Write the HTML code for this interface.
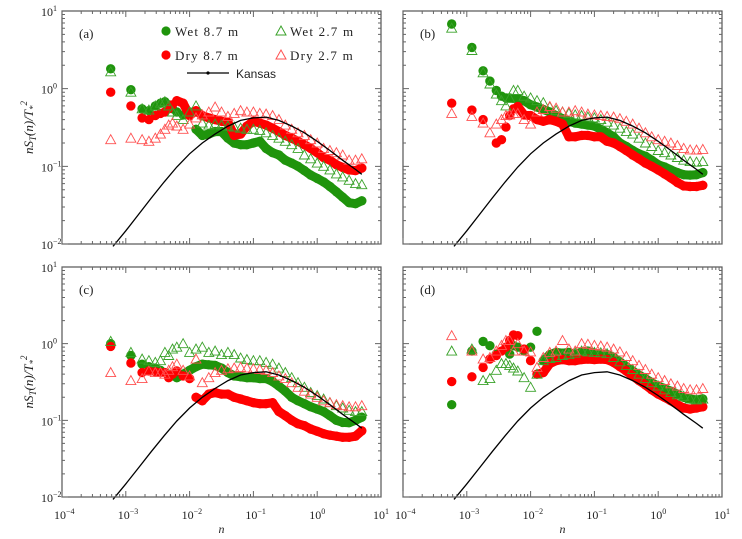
<!DOCTYPE html>
<html><head><meta charset="utf-8"><style>
body{margin:0;background:#fff;}
svg{display:block;font-family:"Liberation Serif",serif;}
</style></head><body>
<svg id="chart" width="742" height="539" viewBox="0 0 742 539"></svg>
<script>
// ---- data ----
const freqs=[0.00058,0.0012,0.0018,0.0023,0.0029,0.0035,0.0041,0.0047,0.0054,0.0063,0.0079,0.01,0.0126,0.0158,0.02,0.0251,0.0316,0.0398,0.05,0.063,0.079,0.1,0.126,0.158,0.2,0.251,0.316,0.398,0.5,0.63,0.79,1,1.26,1.58,2,2.51,3.16,3.98,5.0];
const kansasN=[0.00063,0.001,0.00158,0.0025,0.004,0.0063,0.01,0.0158,0.025,0.04,0.063,0.1,0.158,0.25,0.4,0.63,1,1.58,2.5,4,5];
const kansasV=[0.0093,0.0148,0.024,0.039,0.063,0.098,0.145,0.2,0.26,0.33,0.39,0.42,0.43,0.39,0.33,0.27,0.21,0.16,0.12,0.091,0.079];
const seriesNames=["Wet 8.7 m","Dry 8.7 m","Wet 2.7 m","Dry 2.7 m"];
const aWet87=[1.8,0.97,0.55,0.52,0.6,0.65,0.68,0.62,0.55,0.5,0.46,0.5,0.3,0.25,0.26,0.28,0.28,0.23,0.2,0.19,0.19,0.2,0.21,0.17,0.15,0.14,0.12,0.11,0.1,0.088,0.077,0.07,0.063,0.055,0.047,0.04,0.034,0.033,0.036];
const aDry87=[0.9,0.6,0.42,0.4,0.45,0.48,0.5,0.55,0.62,0.7,0.65,0.45,0.52,0.45,0.42,0.4,0.38,0.37,0.25,0.26,0.33,0.38,0.36,0.34,0.31,0.28,0.25,0.23,0.21,0.19,0.17,0.15,0.13,0.12,0.105,0.097,0.09,0.088,0.095];
const aWet27=[1.65,0.9,0.55,0.53,0.6,0.65,0.68,0.6,0.5,0.45,0.4,0.5,0.6,0.36,0.34,0.35,0.34,0.33,0.32,0.31,0.3,0.3,0.29,0.27,0.25,0.23,0.21,0.19,0.17,0.14,0.125,0.11,0.1,0.09,0.08,0.073,0.066,0.06,0.058];
const aDry27=[0.22,0.23,0.22,0.21,0.23,0.26,0.3,0.34,0.36,0.33,0.3,0.35,0.42,0.46,0.5,0.58,0.5,0.44,0.48,0.52,0.5,0.5,0.48,0.47,0.45,0.4,0.34,0.3,0.27,0.25,0.22,0.2,0.17,0.16,0.15,0.14,0.12,0.12,0.125];
const bWet87=[6.8,3.4,1.7,1.25,0.95,0.8,0.76,0.76,0.75,0.74,0.7,0.62,0.58,0.54,0.5,0.45,0.41,0.38,0.36,0.35,0.34,0.33,0.3,0.27,0.24,0.2,0.18,0.16,0.145,0.135,0.12,0.105,0.098,0.09,0.083,0.078,0.077,0.078,0.083];
const bDry87=[0.65,0.53,0.4,null,0.2,0.22,0.32,0.45,0.55,0.59,0.46,0.45,0.4,0.38,0.4,0.38,0.35,0.24,0.24,0.25,0.25,0.24,0.24,0.21,0.2,0.18,0.16,0.14,0.125,0.11,0.1,0.09,0.08,0.071,0.062,0.056,0.055,0.055,0.057];
const bWet27=[6.0,3.1,1.6,1.15,0.85,0.7,0.6,0.75,0.95,0.95,0.8,0.76,0.7,0.66,0.58,0.52,0.5,0.48,0.46,0.45,0.43,0.42,0.4,0.37,0.34,0.31,0.28,0.26,0.23,0.2,0.18,0.16,0.15,0.14,0.13,0.12,0.115,0.113,0.115];
const bDry27=[0.48,0.44,0.36,0.27,0.35,0.4,0.45,0.46,0.48,0.48,0.4,0.35,0.5,0.54,0.59,0.56,0.5,0.5,0.52,0.5,0.47,0.46,0.45,0.44,0.43,0.41,0.38,0.35,0.31,0.27,0.24,0.22,0.21,0.2,0.185,0.17,0.163,0.162,0.165];
const cWet87=[1.0,0.7,0.54,0.5,0.48,0.45,0.42,0.4,0.38,0.36,0.4,0.45,0.5,0.54,0.53,0.52,0.48,0.42,0.38,0.37,0.36,0.36,0.35,0.35,0.32,0.28,0.24,0.2,0.18,0.165,0.15,0.14,0.13,0.115,0.1,0.094,0.093,0.1,0.11];
const cDry87=[0.92,0.56,0.42,0.44,0.43,0.42,0.42,0.36,0.4,0.44,0.38,0.35,0.2,0.18,0.22,0.23,0.22,0.22,0.2,0.19,0.18,0.17,0.165,0.165,0.17,0.13,0.115,0.1,0.09,0.085,0.077,0.072,0.067,0.064,0.062,0.06,0.06,0.062,0.073];
const cWet27=[1.07,0.77,0.63,0.6,0.57,0.6,0.77,0.7,0.85,0.9,1.0,0.77,0.85,0.9,0.77,0.8,0.72,0.77,0.72,0.65,0.62,0.6,0.6,0.57,0.54,0.48,0.42,0.36,0.31,0.27,0.23,0.21,0.19,0.17,0.155,0.145,0.135,0.13,0.13];
const cDry27=[0.42,0.33,0.35,0.44,0.42,0.42,0.4,0.45,0.5,0.54,0.45,0.38,0.63,0.31,0.36,0.42,0.45,0.47,0.48,0.49,0.48,0.47,0.46,0.45,0.42,0.38,0.35,0.31,0.27,0.24,0.22,0.2,0.18,0.17,0.16,0.155,0.15,0.15,0.155];
const dWet87=[0.16,0.8,1.07,0.94,0.73,null,null,0.73,0.94,0.9,0.8,0.9,1.45,0.6,0.72,0.77,0.75,0.77,0.72,0.78,0.8,0.75,0.73,0.72,0.66,0.58,0.5,0.44,0.39,0.35,0.31,0.28,0.26,0.24,0.22,0.2,0.19,0.185,0.19];
const dDry87=[0.32,0.37,0.49,0.63,0.7,0.8,0.9,1.1,1.3,1.27,0.85,0.6,0.4,0.42,0.55,0.6,0.62,0.6,0.6,0.62,0.63,0.62,0.63,0.62,0.57,0.5,0.44,0.38,0.33,0.29,0.25,0.22,0.2,0.18,0.16,0.145,0.14,0.145,0.15];
const dWet27=[0.8,0.85,0.33,0.35,0.45,0.55,0.55,0.52,0.48,0.44,0.36,0.27,0.4,0.6,0.64,0.66,0.7,0.72,0.75,0.8,0.78,0.77,0.76,0.74,0.66,0.58,0.52,0.46,0.4,0.35,0.31,0.28,0.25,0.23,0.215,0.205,0.19,0.185,0.19];
const dDry27=[1.27,0.8,0.63,0.66,0.8,0.95,1.1,1.1,0.8,1.0,0.8,0.78,0.49,0.66,0.77,0.8,1.1,0.85,0.8,1.0,0.98,0.95,0.93,0.9,0.85,0.78,0.68,0.6,0.52,0.46,0.4,0.36,0.33,0.3,0.28,0.26,0.25,0.25,0.26];
const xTickExps=[-4,-3,-2,-1,0,1];
const yTickExps=[-2,-1,0,1];

const NS="http://www.w3.org/2000/svg";
const svg=document.getElementById('chart');
function mk(tag,attrs,parent){const e=document.createElementNS(NS,tag);for(const k in attrs)e.setAttribute(k,attrs[k]);(parent||svg).appendChild(e);return e;}

const panels=[
 {id:'a',x0:62,x1:381,y0:11,y1:244,data:[aWet87,aDry87,aWet27,aDry27],band:[12,9],xl:false,yl:true},
 {id:'b',x0:403,x1:722,y0:11,y1:244,data:[bWet87,bDry87,bWet27,bDry27],band:[9,9],xl:false,yl:false},
 {id:'c',x0:62,x1:381,y0:267,y1:497,data:[cWet87,cDry87,cWet27,cDry27],band:[9,12],xl:true,yl:true},
 {id:'d',x0:403,x1:722,y0:267,y1:497,data:[dWet87,dDry87,dWet27,dDry27],band:[13,12],xl:true,yl:false}
];

panels.forEach(p=>{
  const g=mk('g',{});
  
  
  const sx=v=>p.x0+(Math.log10(v)+4)/5*(p.x1-p.x0);
  const sy=v=>p.y1-(Math.log10(v)+2)/3*(p.y1-p.y0);
  [0,1,2,3].forEach(si=>{
    const sg=mk('g',{},g);
    
    
    const col=si==0?'#1f940c':'#ff0000';
    if(si<2){
      let d='',prev=false;
      p.data[si].forEach((v,i)=>{
        if(i<p.band[si]||v==null){prev=false;return;}
        d+=(prev?'L':'M')+sx(freqs[i]).toFixed(1)+' '+sy(v).toFixed(1);prev=true;
      });
      const band=mk('path',{d:d,fill:'none',stroke:col,'stroke-width':9,'stroke-linecap':'round','stroke-linejoin':'round'},sg);
      
      
    }
    p.data[si].forEach((v,i)=>{
      if(v==null)return;
      const x=sx(freqs[i]),y=sy(v);
      if(si<2){
        const c=mk('circle',{cx:x.toFixed(1),cy:y.toFixed(1),r:4.7,fill:col},sg);
        
        
      }else{
        const t=mk('path',{d:`M${(x-5).toFixed(1)} ${(y+4).toFixed(1)}L${(x+5).toFixed(1)} ${(y+4).toFixed(1)}L${x.toFixed(1)} ${(y-5).toFixed(1)}Z`,fill:'none',stroke:si==2?'#3aa22a':'#ff5050','stroke-width':0.9},sg);
        
        
      }
    });
  });
  const kp=kansasN.map((n,i)=>`${i?'L':'M'}${sx(n).toFixed(1)} ${sy(kansasV[i]).toFixed(1)}`).join('');
  const kl=mk('path',{d:kp,fill:'none',stroke:'#000','stroke-width':1.3},g);
  
  
  const fr=mk('rect',{x:p.x0,y:p.y0,width:p.x1-p.x0,height:p.y1-p.y0,fill:'none',stroke:'#555','stroke-width':1.2},g);
  
  
  let td='';
  for(let e=-4;e<1;e++)for(let m=1;m<10;m++){
    const x=sx(m*Math.pow(10,e));const L=m==1?6:3;
    td+=`M${x} ${p.y1}v${-L}M${x} ${p.y0}v${L}`;
  }
  for(let e=-2;e<1;e++)for(let m=1;m<10;m++){
    const y=sy(m*Math.pow(10,e));const L=m==1?6:3;
    td+=`M${p.x0} ${y}h${L}M${p.x1} ${y}h${-L}`;
  }
  const tk=mk('path',{d:td,stroke:'#666','stroke-width':1,fill:'none'},g);
  
  
  const pl=mk('text',{x:p.x0+17,y:p.y0+27,'font-size':13,fill:'#222'},g);
  pl.textContent='('+p.id+')';
  
  
  if(p.xl){
    xTickExps.forEach(e=>{
      const t=mk('text',{x:sx(Math.pow(10,e))-8,y:p.y1+22,'font-size':12,fill:'#222'},g);
      t.innerHTML='10<tspan dy="-5" font-size="8">'+(e<0?'\u2212'+(-e):e)+'</tspan>';
      
      
    });
    const xt=mk('text',{x:(p.x0+p.x1)/2-3,y:p.y1+36,'font-size':12,'font-style':'italic',fill:'#222'},g);
    xt.textContent='n';
    
    
  }
  if(p.yl){
    yTickExps.forEach(e=>{
      const t=mk('text',{x:p.x0-21,y:sy(Math.pow(10,e))+5,'font-size':12,fill:'#222'},g);
      t.innerHTML='10<tspan dy="-5" font-size="8">'+(e<0?'\u2212'+(-e):e)+'</tspan>';
      
      
    });
    const cy=(p.y0+p.y1)/2;
    const yt=mk('text',{x:0,y:0,'font-size':13,'font-style':'italic',fill:'#222','text-anchor':'middle',transform:`translate(33 ${cy}) rotate(-90)`},g);
    yt.innerHTML='nS<tspan dy="3" font-size="9">T</tspan><tspan dy="-3">(n)/T</tspan><tspan dy="3" font-size="9">*</tspan><tspan dy="-9" font-size="9">2</tspan>';
    
    
  }
});

const lg=mk('g',{});


const legItems=[
 {t:'Wet 8.7 m',x:166,y:31,k:'c',col:'#1f940c'},
 {t:'Wet 2.7 m',x:281,y:31,k:'t',col:'#3aa22a'},
 {t:'Dry 8.7 m',x:166,y:55,k:'c',col:'#ff0000'},
 {t:'Dry 2.7 m',x:281,y:55,k:'t',col:'#ff5050'}
];
legItems.forEach(it=>{
  const eg=mk('g',{},lg);
  
  
  if(it.k=='c')mk('circle',{cx:it.x,cy:it.y,r:4.6,fill:it.col},eg);
  else mk('path',{d:`M${it.x-5} ${it.y+4}L${it.x+5} ${it.y+4}L${it.x} ${it.y-5}Z`,fill:'none',stroke:it.col,'stroke-width':1},eg);
  const t=mk('text',{x:it.x+9,y:it.y+5,'font-size':13,'letter-spacing':'1.2',fill:'#222'},eg);
  t.textContent=it.t;
});
const ke=mk('g',{},lg);


mk('line',{x1:187,y1:73,x2:229,y2:73,stroke:'#000','stroke-width':1.3},ke);
mk('circle',{cx:208,cy:73,r:1.6,fill:'#000'},ke);
const kt=mk('text',{x:236,y:78,'font-size':12,fill:'#222','font-family':'Liberation Sans, sans-serif'},ke);
kt.textContent='Kansas';
</script>
</body></html>
